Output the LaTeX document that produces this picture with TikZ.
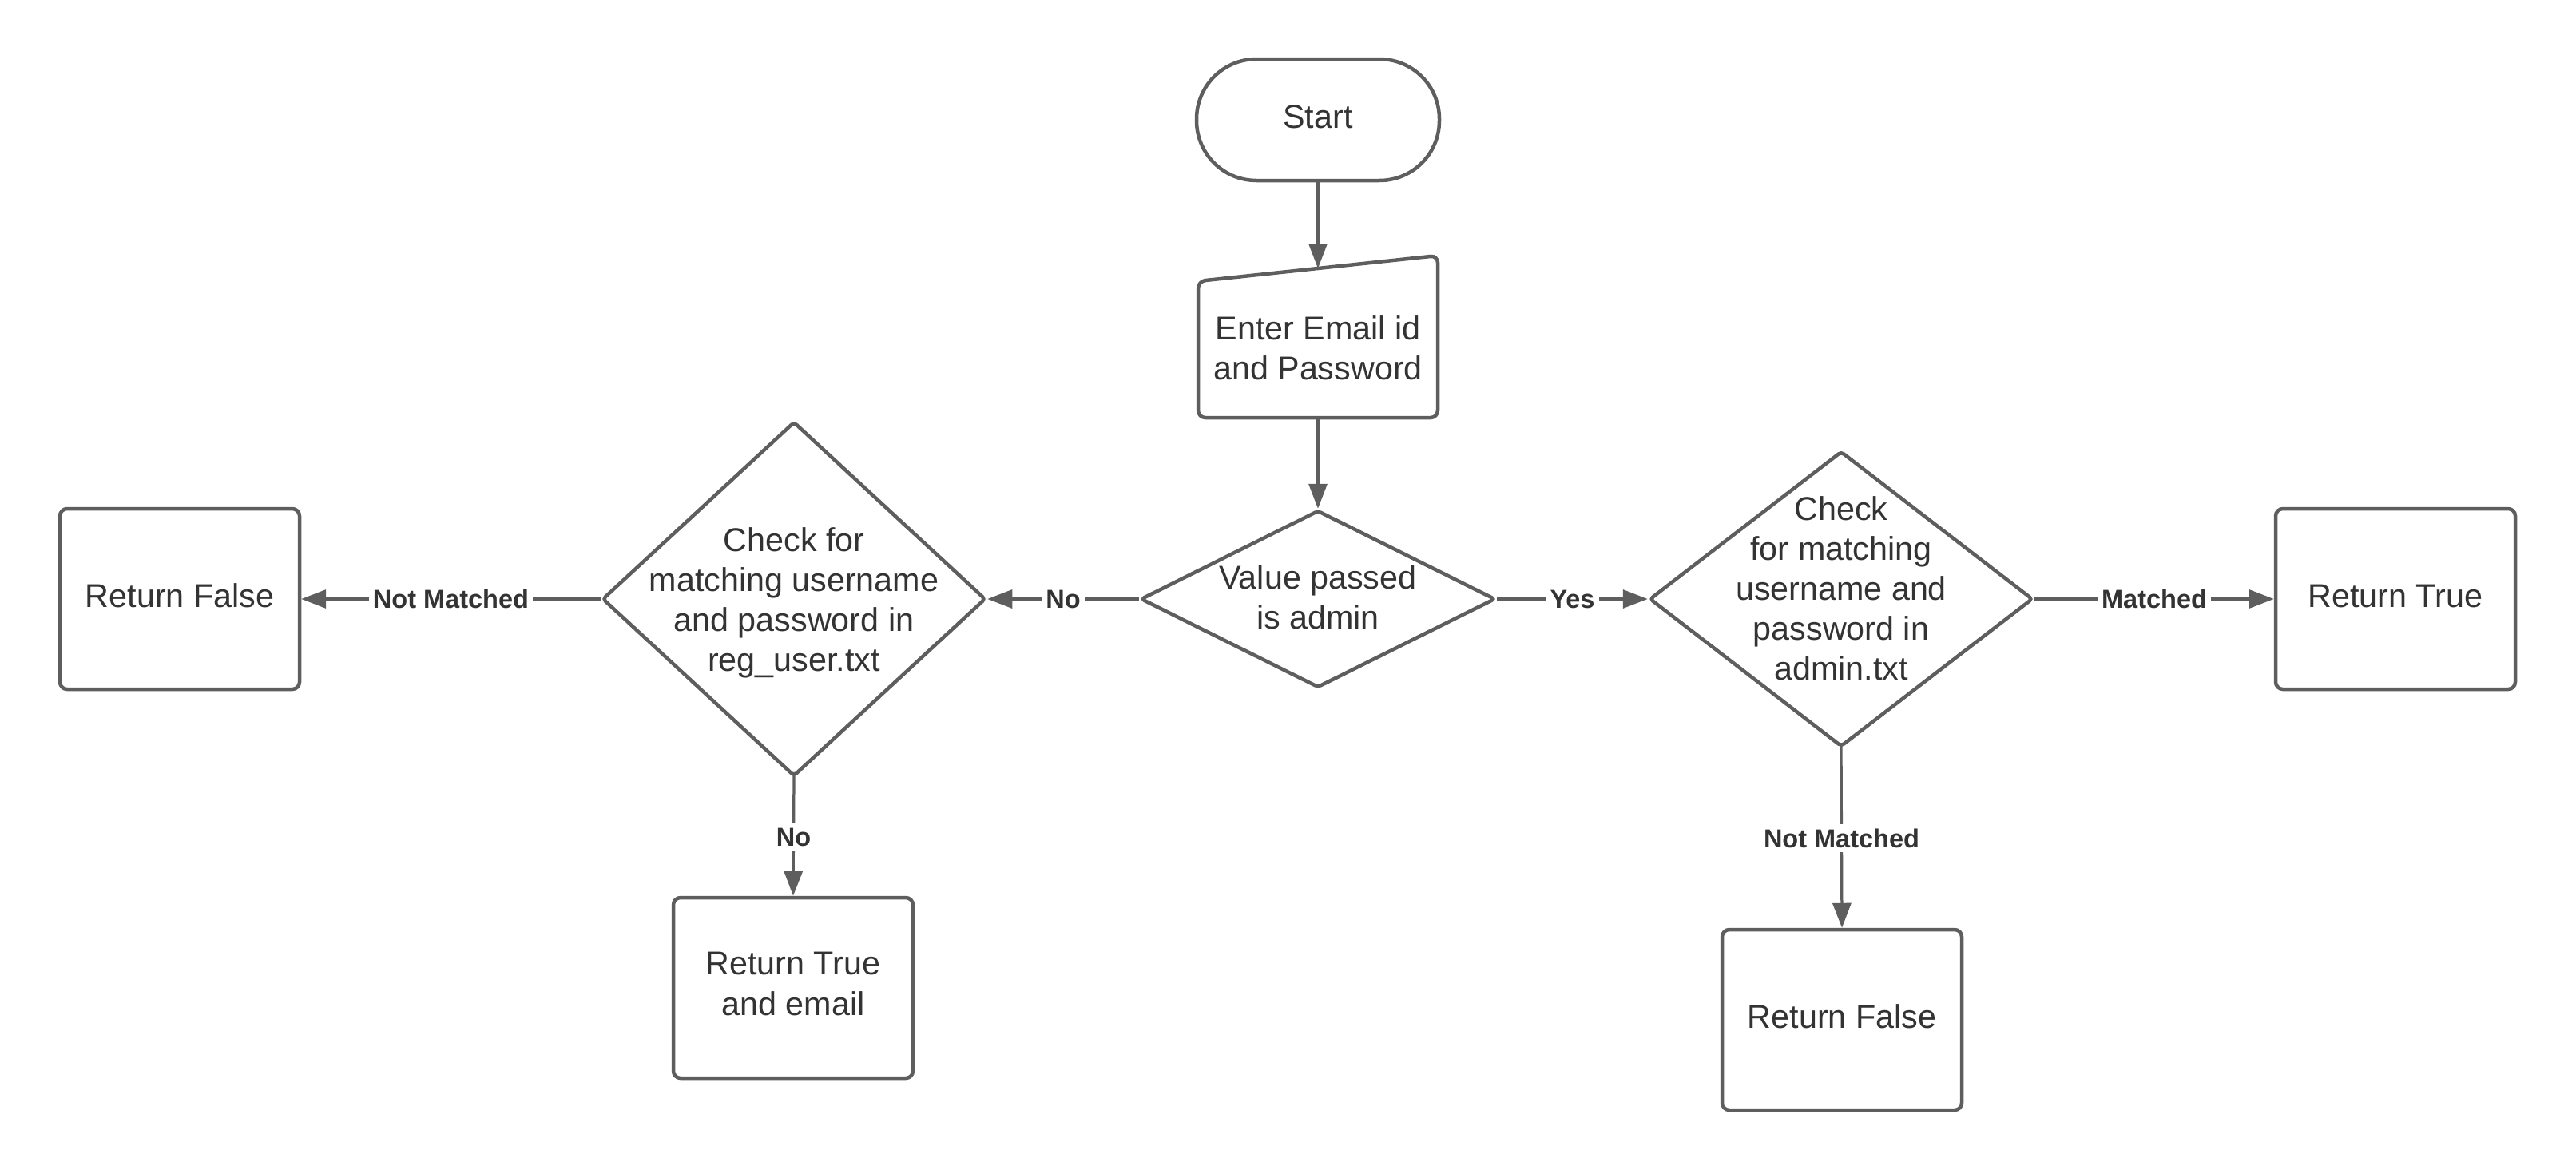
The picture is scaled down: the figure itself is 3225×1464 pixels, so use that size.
\documentclass[tikz,border=0pt]{standalone}
\usepackage{fontspec}
\setmainfont{Liberation Sans}
\usetikzlibrary{shapes.geometric,arrows.meta,calc}
\definecolor{linecol}{HTML}{5E5E5E}
\definecolor{txtcol}{HTML}{333333}
\newcommand{\pxu}{0.02cm}
\newcommand{\mainfs}{\fontsize{23.5}{28.5}\selectfont}
\newcommand{\labfs}{\fontsize{18.5}{22}\selectfont\bfseries}
\begin{document}
\begin{tikzpicture}[x=0.02cm,y=-0.02cm,
  shapeline/.style={draw=linecol, line width=0.09cm},
  box/.style={shapeline, rounded corners=0.18cm, minimum width=300*\pxu, minimum height=226*\pxu, inner sep=0pt, text=txtcol, font=\mainfs, align=center},
  oneline/.style={text height=20pt, text depth=7.6pt},
  txt/.style={inner sep=0pt, text=txtcol, font=\mainfs, align=center},
  dia/.style={diamond, shapeline, rounded corners=0.08cm, inner sep=0pt},
  conn/.style={draw=linecol, line width=0.065cm, -{Triangle[length=0.62cm,width=0.46cm]}},
  lab/.style={fill=white, inner sep=3pt, text=txtcol, font=\labfs}]
\useasboundingbox (0,0) rectangle (3225,1464);

% Start
\node[box, oneline, minimum width=304*\pxu, minimum height=152*\pxu, rounded corners=1.5cm] (start) at (1650,150) {Start};

% Enter (manual input)
\node[minimum width=300*\pxu, minimum height=203*\pxu, inner sep=0pt, outer sep=0pt] (enter) at (1650,421.5) {};
\draw[shapeline, rounded corners=0.18cm] (enter.south west) -- ($(enter.north west)+(0,32)$) -- (enter.north east) -- (enter.south east) -- cycle;
\coordinate (entertop) at ($(enter.north)+(0,16)$);
\node[txt] (entertxt) at (1650,436) {Enter Email id\\and Password};

% Value passed diamond
\node[dia, minimum width=444*\pxu, minimum height=222*\pxu] (value) at (1650,750) {};
\node[txt] (valuetxt) at (1650,748) {Value passed\\is admin};

% reg_user diamond
\node[dia, minimum width=480*\pxu, minimum height=444*\pxu] (reg) at (994,750) {};
\node[txt] (regtxt) at (994,755) {Check for\\matching username\\and password in\\reg\_user.txt};

% admin diamond
\node[dia, minimum width=480*\pxu, minimum height=370*\pxu] (adm) at (2305,750) {};
\node[txt] (admtxt) at (2305,737) {Check\\for matching\\username and\\password in\\admin.txt};

% Boxes
\node[box, oneline] (rfalseL) at (225,750) {Return False};
\node[box] (rtrueE) at (993,1237) {};
\node[txt] (rtrueEtxt) at (993,1232) {Return True\\and email};
\node[box, oneline] (rtrue) at (2999,750) {Return True};
\node[box, oneline] (rfalseR) at (2306,1277) {Return False};

% Connectors
\draw[conn] (start) -- (entertop);
\draw[conn] (enter.south) -- (value.north);
\draw[conn] (value.west) -- node[lab]{No} (reg.east);
\draw[conn] (value.east) -- node[lab]{Yes} (adm.west);
\draw[conn] (reg.west) -- node[lab]{Not Matched} (rfalseL.east);
\draw[conn, shorten <=-3pt] (reg.south) -- node[lab]{No} (rtrueE.north);
\draw[conn] (adm.east) -- node[lab]{Matched} (rtrue.west);
\draw[conn, shorten <=-3pt] (adm.south) -- node[lab]{Not Matched} (rfalseR.north);
\end{tikzpicture}
\end{document}
